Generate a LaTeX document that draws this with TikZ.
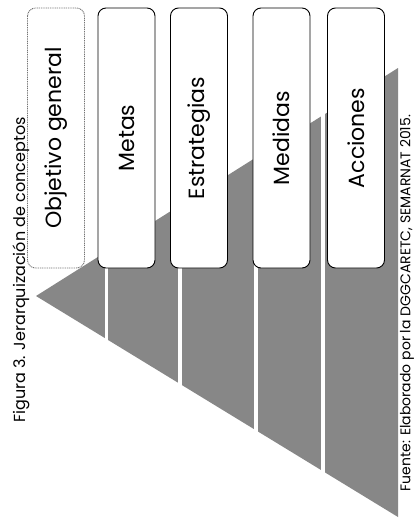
\documentclass[tikz,border=0pt]{standalone}
\usepackage{fontspec}
\setmainfont{Poppins}
\begin{document}
\begin{tikzpicture}[x=1pt,y=-1pt,
  conceptbox/.style={draw=black,line width=0.9pt,fill=white,rounded corners=8pt,
    rotate=90,minimum width=260pt,minimum height=57pt,inner sep=0pt,
    font=\fontsize{22}{24}\selectfont},
  firstbox/.style={conceptbox,draw=black!55,dash pattern=on 1pt off 0.8pt},
  gap/.style={draw=white,line width=3.5pt}]
\useasboundingbox (0,0) rectangle (416,519);
\fill[white] (0,0) rectangle (416,519);
% gray pyramid (rotated)
\coordinate (apex) at (36,296);
\coordinate (tr) at (398,68);
\coordinate (br) at (398,517);
\fill[black!47] (apex) -- (tr) -- (br) -- cycle;
\foreach \gx in {106.5,180,256,323}{
  \draw[gap] (\gx,40) -- (\gx,519);
}
% boxes
\node[firstbox] (obj) at (56,138) {Objetivo general};
\node[conceptbox] (met) at (126.5,138) {Metas};
\node[conceptbox] (est) at (199,138) {Estrategias};
\node[conceptbox] (med) at (281.5,138) {Medidas};
\node[conceptbox] (acc) at (356,138) {Acciones};
% captions
\node[rotate=90,inner sep=0pt,font=\fontsize{16}{18}\selectfont] (title) at (21,270) {Figura 3. Jerarquización de conceptos};
\node[rotate=90,inner sep=0pt,font=\fontsize{14}{16}\selectfont] (source) at (407,303) {Fuente: Elaborado por la DGGCARETC, SEMARNAT 2015.};
\end{tikzpicture}
\end{document}
